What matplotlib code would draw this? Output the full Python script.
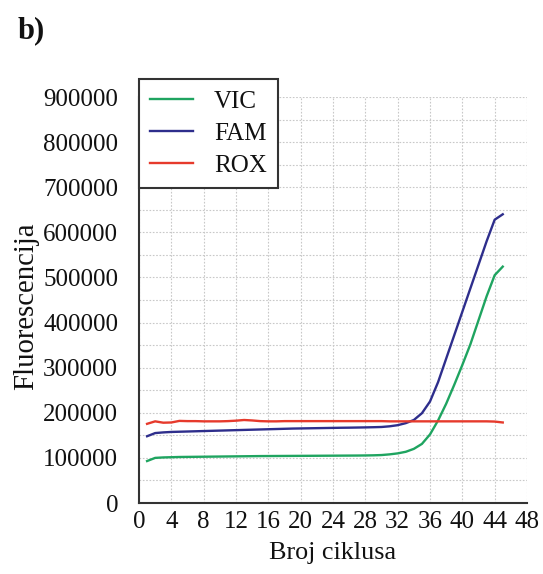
import numpy as np
import matplotlib
matplotlib.use("Agg")
import matplotlib.pyplot as plt

# cycles and fluorescence
cycles = np.arange(1, 46)

vic = [93000, 100000, 101000, 101500, 102000, 102200, 102400, 102600, 102800, 103000,
       103200, 103400, 103600, 103800, 104000, 104100, 104200, 104300, 104400, 104500,
       104600, 104700, 104800, 104900, 105000, 105100, 105200, 105400, 105700, 106300,
       107800, 110000, 113500, 120000, 131000, 152000, 183000, 220000, 262000, 306000,
       352000, 405000, 458000, 505000, 524000]

fam = [148000, 155000, 156500, 157500, 158000, 158500, 159000, 159500, 160000, 160500,
       161000, 161500, 162000, 162500, 163000, 163500, 164000, 164500, 165000, 165300,
       165600, 165900, 166200, 166500, 166800, 167000, 167300, 167600, 168000, 168500,
       170000, 172500, 177000, 184000, 199000, 225000, 268000, 320000, 372000, 424000,
       476000, 528000, 580000, 628000, 640000]

rox = [175500, 181000, 178000, 178500, 182000, 181500, 181500, 181000, 181000, 181000,
       181500, 182500, 184000, 183000, 181500, 181000, 181000, 181500, 181500, 181500,
       181500, 181500, 181500, 181500, 181500, 181500, 181500, 181500, 181500, 181500,
       181000, 181000, 181000, 181000, 181000, 181000, 181000, 181000, 181000, 181000,
       181000, 181000, 181000, 180500, 178500]

series_names = ["VIC", "FAM", "ROX"]
series_colors = ["#1fa460", "#2e2e8c", "#e63a2c"]

x_ticks = list(range(0, 49, 4))
y_ticks = list(range(0, 900001, 100000))

plt.rcParams["font.family"] = ["Liberation Serif", "DejaVu Serif"]

fig = plt.figure(figsize=(5.43, 5.74), dpi=100)
ax = fig.add_axes([139 / 543, 1 - 503 / 574, 388 / 543, 406 / 574])

for name, vals, col in zip(series_names, [vic, fam, rox], series_colors):
    ax.plot(cycles, vals, color=col, lw=1.7, label=name)

ax.set_xlim(0, 48)
ax.set_ylim(0, 900000)
ax.set_xticks(x_ticks)
ax.set_yticks(y_ticks)
ax.set_yticks(np.arange(50000, 900000, 100000), minor=True)
ax.set_xticklabels([str(t) for t in x_ticks], fontsize=18)
ax.set_yticklabels([str(t) for t in y_ticks], fontsize=18)
ax.tick_params(axis="both", which="both", length=0, colors="#111111")
ax.tick_params(axis="y", pad=15)
ax.tick_params(axis="x", pad=6)

ax.grid(True, which="both", axis="y", color="#c8c8c8", ls=(0, (1.5, 1.5)), lw=0.8)
ax.grid(True, which="major", axis="x", color="#c8c8c8", ls=(0, (1.5, 1.5)), lw=0.8)
ax.set_axisbelow(True)

for s in ["top", "right"]:
    ax.spines[s].set_visible(False)
for s in ["left", "bottom"]:
    ax.spines[s].set_color("#333333")
    ax.spines[s].set_linewidth(1.5)

leg = ax.legend(loc="upper left", bbox_to_anchor=(139 / 543, 1 - 79 / 574),
                bbox_transform=fig.transFigure, fontsize=18, frameon=True,
                fancybox=False, edgecolor="#333333", framealpha=1,
                handlelength=1.7, handletextpad=0.85, labelspacing=0.38,
                borderpad=0.45, borderaxespad=0)
leg.get_frame().set_linewidth(1.5)
for t in leg.get_texts():
    t.set_color("#111111")

fig.text(26 / 543, 1 - 306 / 574, "Fluorescencija", rotation=90,
         ha="center", va="center", fontsize=20.7, color="#111111")
fig.text(333 / 543, 1 - 553 / 574, "Broj ciklusa", ha="center", va="center",
         fontsize=18.8, color="#111111")
fig.text(18 / 543, 1 - 31 / 574, "b)", ha="left", va="center",
         fontsize=22, fontweight="bold", color="#111111")

fig.savefig("out.png", dpi=100, facecolor="white")
